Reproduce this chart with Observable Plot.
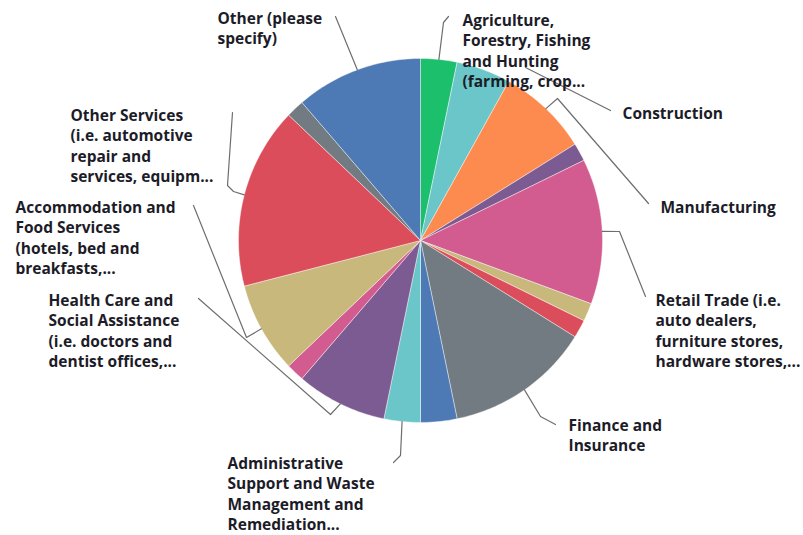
<!DOCTYPE html>
<html>
<head>
<meta charset="utf-8">
<script src="https://cdn.jsdelivr.net/npm/d3@7"></script>
<script src="https://cdn.jsdelivr.net/npm/@observablehq/plot@0.6"></script>
<style>
  html, body { margin: 0; padding: 0; background: #fff; }
</style>
</head>
<body>
<div id="chart"></div>
<script>
// ---- data (clockwise from 12 o'clock) ----
const categories = [
  "Agriculture, Forestry, Fishing and Hunting",
  "Construction",
  "Manufacturing",
  "unlabeled slice 1",
  "Retail Trade",
  "unlabeled slice 2",
  "unlabeled slice 3",
  "Finance and Insurance",
  "unlabeled slice 4",
  "Administrative Support and Waste Management and Remediation",
  "Health Care and Social Assistance",
  "unlabeled slice 5",
  "Accommodation and Food Services",
  "Other Services",
  "unlabeled slice 6",
  "Other (please specify)"
];
const counts = [2, 3, 5, 1, 8, 1, 1, 8, 2, 2, 5, 1, 5, 10, 1, 7];
const sliceColors = [
  "#1bbf6c", "#6ac6c9", "#fd8a4f", "#7b5b91", "#d25c8f", "#c9b87b", "#dc4d5b", "#737b82",
  "#4d7ab4", "#6ac6c9", "#7b5b91", "#d25c8f", "#c9b87b", "#dc4d5b", "#737b82", "#4d7ab4"
];
// displayed label text per slice (null = no label shown)
const labelTexts = [
  "Agriculture,\nForestry, Fishing\nand Hunting\n(farming, crop...",
  "Construction",
  "Manufacturing",
  null,
  "Retail Trade (i.e.\nauto dealers,\nfurniture stores,\nhardware stores,...",
  null,
  null,
  "Finance and\nInsurance",
  null,
  "Administrative\nSupport and Waste\nManagement and\nRemediation...",
  "Health Care and\nSocial Assistance\n(i.e. doctors and\ndentist offices,...",
  null,
  "Accommodation and\nFood Services\n(hotels, bed and\nbreakfasts,...",
  "Other Services\n(i.e. automotive\nrepair and\nservices, equipm...",
  null,
  "Other (please\nspecify)"
];

// ---- layout (pixels) ----
const W = 803, H = 535, CX = 420, CY = 240, R = 182;
const FS = 15.5, LH = 20.6;
// label: [left x, first-line centre y]; leader: label-side points; toPie: attach to slice edge
const layout = {
  0:  {label: [462, 20],  leader: [[448, 16], [443, 22]], toPie: true},
  1:  {label: [622, 113], leader: [[610, 110], [525, 67]], toPie: false},
  2:  {label: [660, 207], leader: [[648, 203], [557, 98]], toPie: true},
  4:  {label: [655, 300], leader: [[645, 296], [619, 231]], toPie: true},
  7:  {label: [568, 425], leader: [[555, 424], [540, 416]], toPie: true},
  9:  {label: [227, 463], leader: [[393, 462], [400, 455]], toPie: true},
  10: {label: [48, 300],  leader: [[198, 298], [330, 414]], toPie: true},
  12: {label: [15, 207],  leader: [[193, 205], [246, 337]], toPie: true},
  13: {label: [70, 115],  leader: [[232, 112], [227, 185], [233, 191]], toPie: true},
  15: {label: [217, 18],  leader: [[335, 16]], toPie: true}
};

// ---- geometry built from the data ----
const total = d3.sum(counts);
let acc = 0;
const slices = counts.map((c, i) => {
  const a0 = acc / total * 2 * Math.PI; acc += c;
  const a1 = acc / total * 2 * Math.PI;
  return {i, name: categories[i], a0, a1, mid: (a0 + a1) / 2};
});
const piePts = slices.flatMap(s => {
  const n = Math.max(2, Math.ceil((s.a1 - s.a0) / (Math.PI / 180)));
  const pts = [{name: s.name, x: 0, y: 0}];
  for (let k = 0; k <= n; k++) {
    const a = s.a0 + (s.a1 - s.a0) * k / n;
    pts.push({name: s.name, x: R * Math.sin(a), y: R * Math.cos(a)});
  }
  pts.push({name: s.name, x: 0, y: 0});
  return pts;
});
const toLocal = ([px, py]) => ({x: px - CX, y: CY - py});
const leaderPts = [];
const labelData = [];
for (const [k, L] of Object.entries(layout)) {
  const s = slices[+k];
  const pts = L.leader.map(toLocal);
  if (L.toPie) pts.push({x: R * Math.sin(s.mid), y: R * Math.cos(s.mid)});
  pts.forEach(p => leaderPts.push({id: s.name, ...p}));
  labelData.push({...toLocal([L.label[0], L.label[1] - 0.42 * FS - 3]), text: labelTexts[+k]});
}

const chart = Plot.plot({
  width: W, height: H,
  marginTop: 0, marginRight: 0, marginBottom: 0, marginLeft: 0,
  x: {domain: [-R, R], range: [CX - R, CX + R], axis: null},
  y: {domain: [-R, R], range: [CY + R, CY - R], axis: null},
  color: {domain: categories, range: sliceColors},
  style: {background: "#fff"},
  marks: [
    Plot.line(piePts, {x: "x", y: "y", z: "name", fill: "name", stroke: "#ffffff", strokeWidth: 0.6, strokeOpacity: 0.7}),
    Plot.line(leaderPts, {x: "x", y: "y", z: "id", stroke: "#6e6e6e", strokeWidth: 1.2}),
    Plot.text(labelData, {
      x: "x", y: "y", text: "text",
      textAnchor: "start", lineAnchor: "top", lineHeight: LH / FS,
      fontSize: FS, fontWeight: 700, fontFamily: "Open Sans",
      fill: "#1c1c28"
    })
  ]
});
document.getElementById("chart").append(chart);
</script>
</body>
</html>
